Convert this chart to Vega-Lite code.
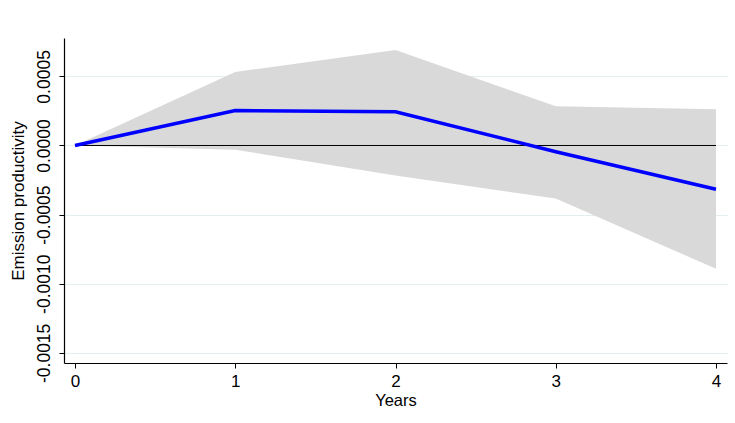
{
  "$schema": "https://vega.github.io/schema/vega-lite/v6.json",
  "width": 663,
  "height": 325,
  "autosize": "none",
  "padding": {"left": 64, "top": 38, "right": 8, "bottom": 60},
  "background": "white",
  "config": {
    "view": {"stroke": null},
    "font": "Liberation Sans",
    "axis": {
      "labelFont": "Liberation Sans",
      "titleFont": "Liberation Sans",
      "labelColor": "black",
      "titleColor": "black",
      "titleFontWeight": "normal",
      "domainColor": "black",
      "tickColor": "black",
      "gridColor": "#e4eef1",
      "gridWidth": 1.2
    }
  },
  "datasets": {
    "irf": [
      {"year": 0, "coef": 0.0, "lower": 0.0, "upper": 0.0},
      {"year": 1, "coef": 0.000253, "lower": -0.000031, "upper": 0.000532},
      {"year": 2, "coef": 0.000244, "lower": -0.000217, "upper": 0.000690},
      {"year": 3, "coef": -0.000045, "lower": -0.000384, "upper": 0.000284},
      {"year": 4, "coef": -0.000316, "lower": -0.000892, "upper": 0.000262}
    ],
    "zero": [{"x0": 0, "x1": 4, "y": 0}]
  },
  "layer": [
    {
      "data": {"name": "irf"},
      "mark": {"type": "area", "color": "#d9d9d9", "opacity": 1},
      "encoding": {
        "x": {
          "field": "year", "type": "quantitative",
          "scale": {"domain": [-0.0686, 4.0686], "nice": false, "zero": false},
          "axis": {
            "values": [0, 1, 2, 3, 4], "format": "d", "grid": false,
            "title": "Years", "titleFontSize": 16.5, "titlePadding": 3,
            "labelFontSize": 17, "labelPadding": 5, "tickSize": 5, "domainWidth": 1.2
          }
        },
        "y": {
          "field": "upper", "type": "quantitative",
          "scale": {"domain": [-0.0015734, 0.0007776], "nice": false, "zero": false},
          "axis": {
            "values": [-0.0015, -0.001, -0.0005, 0, 0.0005],
            "labelExpr": "replace(format(datum.value, '.4f'), '\u2212', '-')",
            "labelAngle": -90, "labelAlign": "center", "labelBaseline": "bottom",
            "labelFontSize": 17.5, "labelPadding": 6, "tickSize": 5, "domainWidth": 1.2,
            "grid": true,
            "title": "Emission productivity", "titleFontSize": 17, "titlePadding": 8
          }
        },
        "y2": {"field": "lower"}
      }
    },
    {
      "data": {"name": "zero"},
      "mark": {"type": "rule", "color": "black", "strokeWidth": 1},
      "encoding": {
        "x": {"field": "x0", "type": "quantitative"},
        "x2": {"field": "x1"},
        "y": {"field": "y", "type": "quantitative"}
      }
    },
    {
      "data": {"name": "irf"},
      "mark": {"type": "line", "color": "#0000ff", "strokeWidth": 3.5},
      "encoding": {
        "x": {"field": "year", "type": "quantitative"},
        "y": {"field": "coef", "type": "quantitative"}
      }
    }
  ]
}
